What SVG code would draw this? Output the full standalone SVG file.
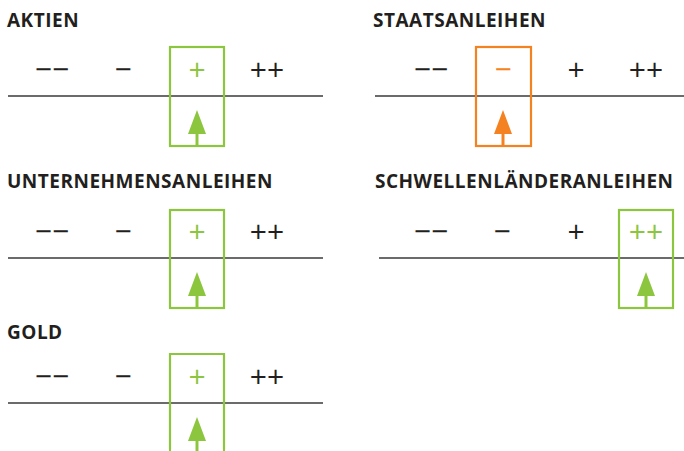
<svg xmlns="http://www.w3.org/2000/svg" width="684" height="451" viewBox="0 0 684 451">
  <style>
    .title { font-family: "Open Sans", "Noto Sans", "Liberation Sans", sans-serif; font-weight: 700; font-size: 19px; letter-spacing: 0.5px; fill: #231f20; }
    .sym { font-family: "Open Sans", "Noto Sans", "Liberation Sans", sans-serif; font-weight: 400; font-size: 30px; fill: #231f20; text-anchor: middle; }
    .sym.g { fill: #8cc63f; }
    .sym.o { fill: #f58220; }
    .axis { stroke: #3a3a3a; stroke-width: 1.5; fill: none; }
    .boxg { stroke: #8cc63f; stroke-width: 2.2; fill: none; }
    .boxo { stroke: #f58220; stroke-width: 2.2; fill: none; }
    .shaftg { stroke: #8cc63f; stroke-width: 3; }
    .shafto { stroke: #f58220; stroke-width: 3; }
  </style>
  <defs>
    <polygon id="head" points="0,-24 -9,0 9,0"/>
  </defs>

  <!-- Aktien -->
  <g id="aktien">
    <text class="title" x="7" y="27">AKTIEN</text>
    <line class="axis" x1="8" y1="96" x2="323" y2="96"/>
    <text class="sym" x="52" y="80">−−</text>
    <text class="sym" x="123" y="80">−</text>
    <text class="sym g" x="197" y="80">+</text>
    <text class="sym" x="267" y="80">++</text>
    <rect class="boxg" x="170" y="47" width="54" height="99"/>
    <line class="shaftg" x1="197" y1="130" x2="197" y2="146"/>
    <use href="#head" x="197" y="134" fill="#8cc63f"/>
  </g>

  <!-- Staatsanleihen -->
  <g id="staatsanleihen">
    <text class="title" x="373" y="27">STAATSANLEIHEN</text>
    <line class="axis" x1="375" y1="96" x2="684" y2="96"/>
    <text class="sym" x="431" y="80">−−</text>
    <text class="sym o" x="503" y="80">−</text>
    <text class="sym" x="576" y="80">+</text>
    <text class="sym" x="646" y="80">++</text>
    <rect class="boxo" x="476" y="47" width="55" height="99"/>
    <line class="shafto" x1="503" y1="130" x2="503" y2="146"/>
    <use href="#head" x="503" y="134" fill="#f58220"/>
  </g>

  <!-- Unternehmensanleihen -->
  <g id="unternehmensanleihen">
    <text class="title" x="7" y="188">UNTERNEHMENSANLEIHEN</text>
    <line class="axis" x1="8" y1="258" x2="323" y2="258"/>
    <text class="sym" x="52" y="242">−−</text>
    <text class="sym" x="123" y="242">−</text>
    <text class="sym g" x="197" y="242">+</text>
    <text class="sym" x="267" y="242">++</text>
    <rect class="boxg" x="170" y="210" width="54" height="98"/>
    <line class="shaftg" x1="197" y1="292" x2="197" y2="308"/>
    <use href="#head" x="197" y="296" fill="#8cc63f"/>
  </g>

  <!-- Schwellenländeranleihen -->
  <g id="schwellenlaenderanleihen">
    <text class="title" x="375" y="188">SCHWELLENLÄNDERANLEIHEN</text>
    <line class="axis" x1="379" y1="258" x2="684" y2="258"/>
    <text class="sym" x="431" y="242">−−</text>
    <text class="sym" x="502" y="242">−</text>
    <text class="sym" x="576" y="242">+</text>
    <text class="sym g" x="646" y="242">++</text>
    <rect class="boxg" x="619" y="210" width="54" height="98"/>
    <line class="shaftg" x1="646" y1="292" x2="646" y2="308"/>
    <use href="#head" x="646" y="296" fill="#8cc63f"/>
  </g>

  <!-- Gold -->
  <g id="gold">
    <text class="title" x="7" y="339">GOLD</text>
    <line class="axis" x1="8" y1="403" x2="323" y2="403"/>
    <text class="sym" x="52" y="387">−−</text>
    <text class="sym" x="123" y="387">−</text>
    <text class="sym g" x="197" y="387">+</text>
    <text class="sym" x="267" y="387">++</text>
    <polyline class="boxg" points="170,452 170,354 224,354 224,452"/>
    <line class="shaftg" x1="197" y1="437" x2="197" y2="452"/>
    <use href="#head" x="197" y="441" fill="#8cc63f"/>
  </g>
</svg>
